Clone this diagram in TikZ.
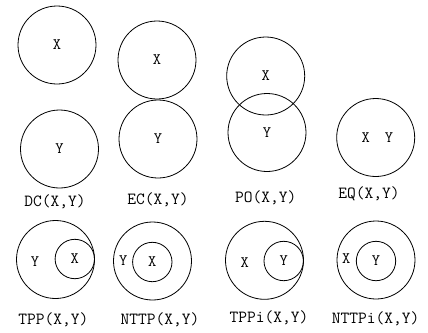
\documentclass[tikz,border=0pt]{standalone}
\begin{document}
\begin{tikzpicture}[x=1bp,y=-1bp,
  big/.style={circle,draw,line width=0.8bp,minimum size=78bp,inner sep=0pt,font=\fontsize{16bp}{18bp}\ttfamily},
  small/.style={circle,draw,line width=0.8bp,minimum size=39.4bp,inner sep=0pt,font=\fontsize{16bp}{18bp}\ttfamily},
  txt/.style={inner sep=0pt,font=\fontsize{16bp}{18bp}\ttfamily},
  rellabel/.style={inner sep=0pt,font=\fontsize{17bp}{19bp}\ttfamily}]
\useasboundingbox (0,0) rectangle (428,333);
% DC
\node[big] (dcx) at (57,45) {X};
\node[big] (dcy) at (59.5,149) {Y};
\node[rellabel] (dcl) at (55,202) {DC(X,Y)};
% EC
\node[big] (ecx) at (157,60) {X};
\node[big] (ecy) at (158,139) {Y};
\node[rellabel] (ecl) at (158,200) {EC(X,Y)};
% PO
\node[big] (pox) at (265.7,76) {X};
\node[big] (poy) at (267,132.5) {Y};
\node[rellabel] (pol) at (265.7,198) {PO(X,Y)};
% EQ
\node[big] (eq) at (375.7,137.5) {};
\node[txt] (eqt) at (377.3,138) {X\kern15bp Y};
\node[rellabel] (eql) at (369,193.3) {EQ(X,Y)};
% TPP
\node[big] (tppy) at (55.5,259.5) {};
\node[small] (tppx) at (74.8,259) {X};
\node[txt] (tppyt) at (35,261.5) {Y};
\node[rellabel] (tppl) at (53.3,319.3) {TPP(X,Y)};
% NTTP
\node[big] (nttpy) at (152.5,261) {};
\node[small] (nttpx) at (152.3,262) {X};
\node[txt] (nttpyt) at (123.3,261) {Y};
\node[rellabel] (nttpl) at (160,319.3) {NTTP(X,Y)};
% TPPi
\node[big] (tppix) at (264.5,260.3) {};
\node[small] (tppiy) at (283.7,261) {Y};
\node[txt] (tppixt) at (244.7,263) {X};
\node[rellabel] (tppil) at (269,317.3) {TPPi(X,Y)};
% NTTPi
\node[big] (nttpix) at (376,260) {};
\node[small] (nttpiy) at (376,261) {Y};
\node[txt] (nttpixt) at (346.3,259) {X};
\node[rellabel] (nttpil) at (375.7,318.3) {NTTPi(X,Y)};
\end{tikzpicture}
\end{document}
